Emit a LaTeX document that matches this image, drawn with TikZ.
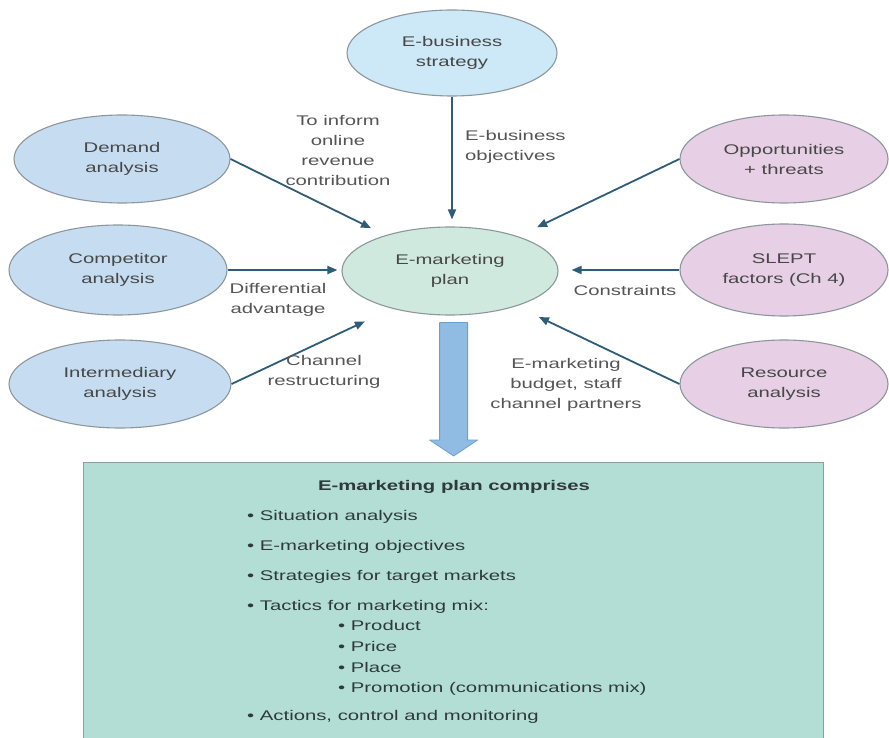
\documentclass[tikz,border=0pt]{standalone}
\usepackage{fontspec}
\setmainfont{Liberation Sans}[FakeStretch=1.45]
\usetikzlibrary{shapes.geometric,arrows.meta,calc}

\definecolor{bluefill}{HTML}{C6DDF1}
\definecolor{ebfill}{HTML}{CDE8F6}
\definecolor{planfill}{HTML}{CFE9DF}
\definecolor{pinkfill}{HTML}{E7CFE5}
\definecolor{edgegray}{HTML}{8C979C}
\definecolor{arrowblue}{HTML}{2F5C78}
\definecolor{bigfill}{HTML}{90BCE4}
\definecolor{bigedge}{HTML}{6D9FD2}
\definecolor{boxfill}{HTML}{B3DED5}
\definecolor{boxedge}{HTML}{8E9E9B}
\definecolor{txtgray}{HTML}{474747}
\definecolor{labgray}{HTML}{555555}
\definecolor{boxtext}{HTML}{2E3A39}

\begin{document}
\begin{tikzpicture}[x=1pt,y=-1pt,
  bubble/.style={ellipse, draw=edgegray, line width=1.1pt, align=center,
    font=\fontsize{14}{20}\selectfont, text=txtgray, inner sep=0pt},
  lab/.style={align=center, font=\fontsize{14}{20}\selectfont, text=labgray, inner sep=0pt},
  link/.style={-{Triangle[length=10pt,width=8pt]}, line width=1.8pt, draw=arrowblue},
  planbox/.style={rectangle, fill=boxfill, draw=boxedge, line width=1.2pt, inner sep=0pt},
  boxtxt/.style={font=\fontsize{14}{20}\selectfont, text=boxtext, inner sep=0pt},
  bigarrow/.style={fill=bigfill, draw=bigedge, line width=0.8pt, line join=round}]
\useasboundingbox (0,0) rectangle (889,738);
\fill[white] (0,0) rectangle (889,738);

% outer ellipses and the central plan
\node[bubble, fill=ebfill, minimum width=210pt, minimum height=86pt] (ebs) at (452,53) {E-business\\strategy};
\node[bubble, fill=bluefill, minimum width=216pt, minimum height=88pt] (dem) at (122,159) {Demand\\analysis};
\node[bubble, fill=bluefill, minimum width=218pt, minimum height=90pt] (comp) at (118,270) {Competitor\\analysis};
\node[bubble, fill=bluefill, minimum width=222pt, minimum height=88pt] (inter) at (120,384) {Intermediary\\analysis};
\node[bubble, fill=planfill, minimum width=216pt, minimum height=88pt] (plan) at (450,271) {E-marketing\\plan};
\node[bubble, fill=pinkfill, minimum width=208pt, minimum height=88pt] (opp) at (784,159) {Opportunities\\+ threats};
\node[bubble, fill=pinkfill, minimum width=208pt, minimum height=92pt] (slept) at (784,270) {SLEPT\\factors (Ch 4)};
\node[bubble, fill=pinkfill, minimum width=208pt, minimum height=88pt] (res) at (784,384) {Resource\\analysis};

% inputs into the plan
\draw[link, shorten >=7pt] (ebs.south) -- (ebs.south |- plan.north);
\draw[link, shorten >=16pt] (dem.east) -- (plan.151);
\draw[link, shorten >=4pt] (comp.east) -- (comp.east -| plan.west);
\draw[link, shorten >=30pt] (inter.east) -- (plan.213);
\draw[link, shorten >=21pt] (opp.west) -- (plan.27);
\draw[link, shorten >=13pt] (slept.west) -- (slept.west -| plan.east);
\draw[link, shorten >=25pt] (res.west) -- (plan.-28);

% connector labels
\node[lab] (l1) at (338,150) {To inform\\online\\revenue\\contribution};
\node[lab, align=left, anchor=west] (l2) at (465,147) {E-business\\objectives};
\node[lab] (l3) at (278,300) {Differential\\advantage};
\node[lab] (l4) at (324,372) {Channel\\restructuring};
\node[lab] (l5) at (625,290) {Constraints};
\node[lab] (l6) at (566,385) {E-marketing\\budget, staff\\channel partners};

% contents box
\node[planbox, anchor=north west, minimum width=740pt, minimum height=290pt] (box) at (83,462) {};

% block arrow from the plan to the box
\coordinate (btip) at ([yshift=6pt]box.north);
\coordinate (bt) at ($(box.north |- plan.south)+(0,7)$);
\filldraw[bigarrow] ($(bt)+(-14,0)$) -- ($(bt)+(14,0)$) -- ($(btip)+(14,-16)$)
  -- ($(btip)+(24,-16)$) -- (btip) -- ($(btip)+(-24,-16)$) -- ($(btip)+(-14,-16)$) -- cycle;

% list inside the box
\node[boxtxt, anchor=base] (t0) at (454,490) {\bfseries E-marketing plan comprises};
\node[boxtxt, anchor=base west] (t1) at (247,520) {\textbullet\ Situation analysis};
\node[boxtxt, anchor=base west] (t2) at (247,550) {\textbullet\ E-marketing objectives};
\node[boxtxt, anchor=base west] (t3) at (247,580) {\textbullet\ Strategies for target markets};
\node[boxtxt, anchor=base west] (t4) at (247,610) {\textbullet\ Tactics for marketing mix:};
\node[boxtxt, anchor=base west] (s1) at (338,630) {\textbullet\ Product};
\node[boxtxt, anchor=base west] (s2) at (338,651) {\textbullet\ Price};
\node[boxtxt, anchor=base west] (s3) at (338,672) {\textbullet\ Place};
\node[boxtxt, anchor=base west] (s4) at (338,692) {\textbullet\ Promotion (communications mix)};
\node[boxtxt, anchor=base west] (t5) at (247,720) {\textbullet\ Actions, control and monitoring};
\end{tikzpicture}
\end{document}
